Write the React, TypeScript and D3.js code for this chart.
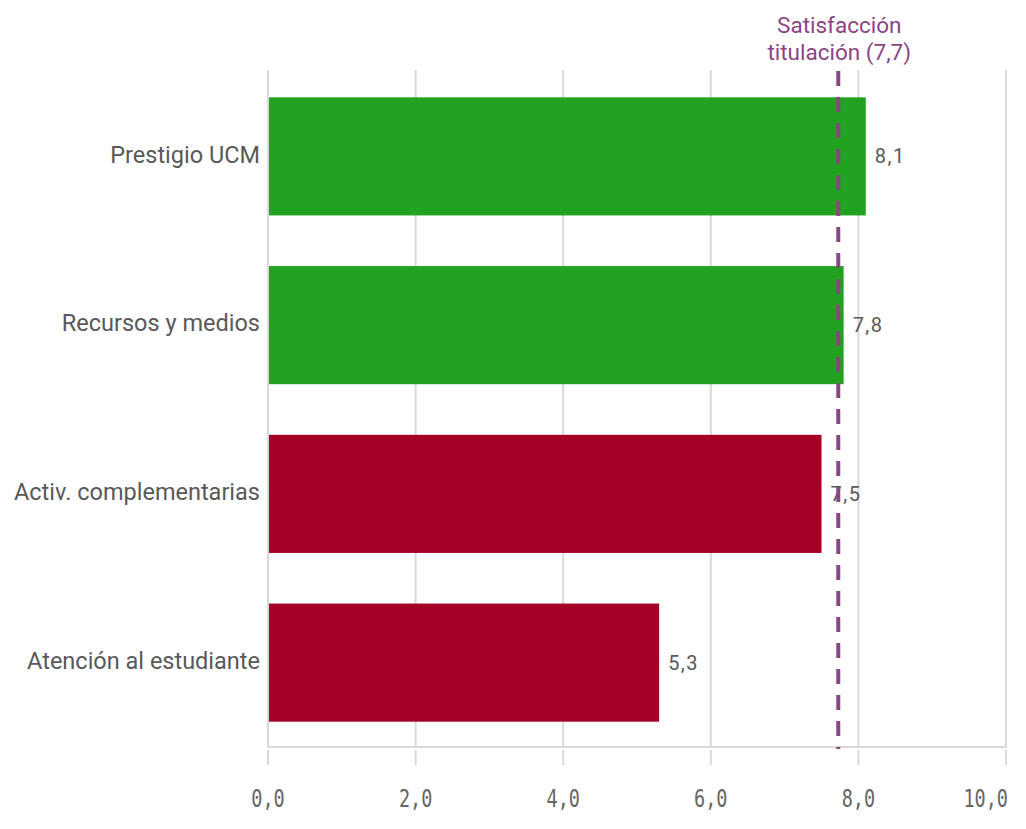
import React from "react";
import * as d3 from "d3";

const categories = ["Prestigio UCM", "Recursos y medios", "Activ. complementarias", "Atención al estudiante"];
const values = [8.1, 7.8, 7.5, 5.3];
const reference = 7.7;
const refLabel = ["Satisfacción", "titulación (7,7)"];
const xTicks = [0, 2, 4, 6, 8, 10];

const W = 1026;
const H = 829;
const GREEN = "#21a221";
const RED = "#a50026";
const PURPLE = "#8b4582";
const GRID = "#d9d9d9";
const TEXT = "#595959";

const fmt = (v: number) => v.toFixed(1).replace(".", ",");

export default function App() {
  const x = d3.scaleLinear().domain([0, 10]).range([268, 1006]);
  const y = d3.scaleBand<string>().domain(categories).range([72, 747]).paddingInner(0.3).paddingOuter(0.15);
  const axisY = 747;
  const top = 70;
  return (
    <svg width={W} height={H} style={{ position: "absolute", left: 0, top: 0, display: "block", background: "#fff" }}>
      {xTicks.map((t, i) => {
        const last = i === xTicks.length - 1;
        return (
          <g key={t}>
            <line x1={x(t)} x2={x(t)} y1={top} y2={axisY} stroke={GRID} strokeWidth={2} />
            <line x1={x(t)} x2={x(t)} y1={axisY + 3} y2={axisY + 18} stroke={GRID} strokeWidth={2} />
            <text
              transform={`translate(${last ? x(t) + 2 : x(t)},807) scale(1,1.3)`}
              textAnchor={last ? "end" : "middle"}
              fontFamily="'DejaVu Sans Mono', monospace"
              fontSize={18.5}
              fill="#666"
            >
              {fmt(t)}
            </text>
          </g>
        );
      })}
      <line x1={x(0)} x2={x(10) + 1} y1={axisY} y2={axisY} stroke={GRID} strokeWidth={2} />
      {categories.map((c, i) => {
        const v = values[i];
        const y0 = y(c)!;
        return (
          <g key={c}>
            <rect x={x(0) + 1} y={y0} width={x(v) - x(0) - 1} height={y.bandwidth()} fill={v >= reference ? GREEN : RED} />
            <text x={260} y={y0 + y.bandwidth() / 2 - 2} dy="0.35em" textAnchor="end" fontFamily="Roboto, sans-serif" fontSize={23.5} fill={TEXT}>
              {c}
            </text>
            <text x={x(v) + 9} y={y0 + y.bandwidth() / 2} dy="0.35em" textAnchor="start" fontFamily="Roboto, sans-serif" fontSize={20} letterSpacing={1.5} fill={TEXT}>
              {fmt(v)}
            </text>
          </g>
        );
      })}
      <line x1={x(reference) + 2} x2={x(reference) + 2} y1={71} y2={749} stroke={PURPLE} strokeWidth={4} strokeDasharray="15,11" />
      <text x={x(reference) + 3} y={33} textAnchor="middle" fontFamily="Roboto, sans-serif" fontSize={22.5} fill={PURPLE}>
        {refLabel[0]}
      </text>
      <text x={x(reference) + 3} y={60} textAnchor="middle" fontFamily="Roboto, sans-serif" fontSize={22.5} fill={PURPLE}>
        {refLabel[1]}
      </text>
    </svg>
  );
}
